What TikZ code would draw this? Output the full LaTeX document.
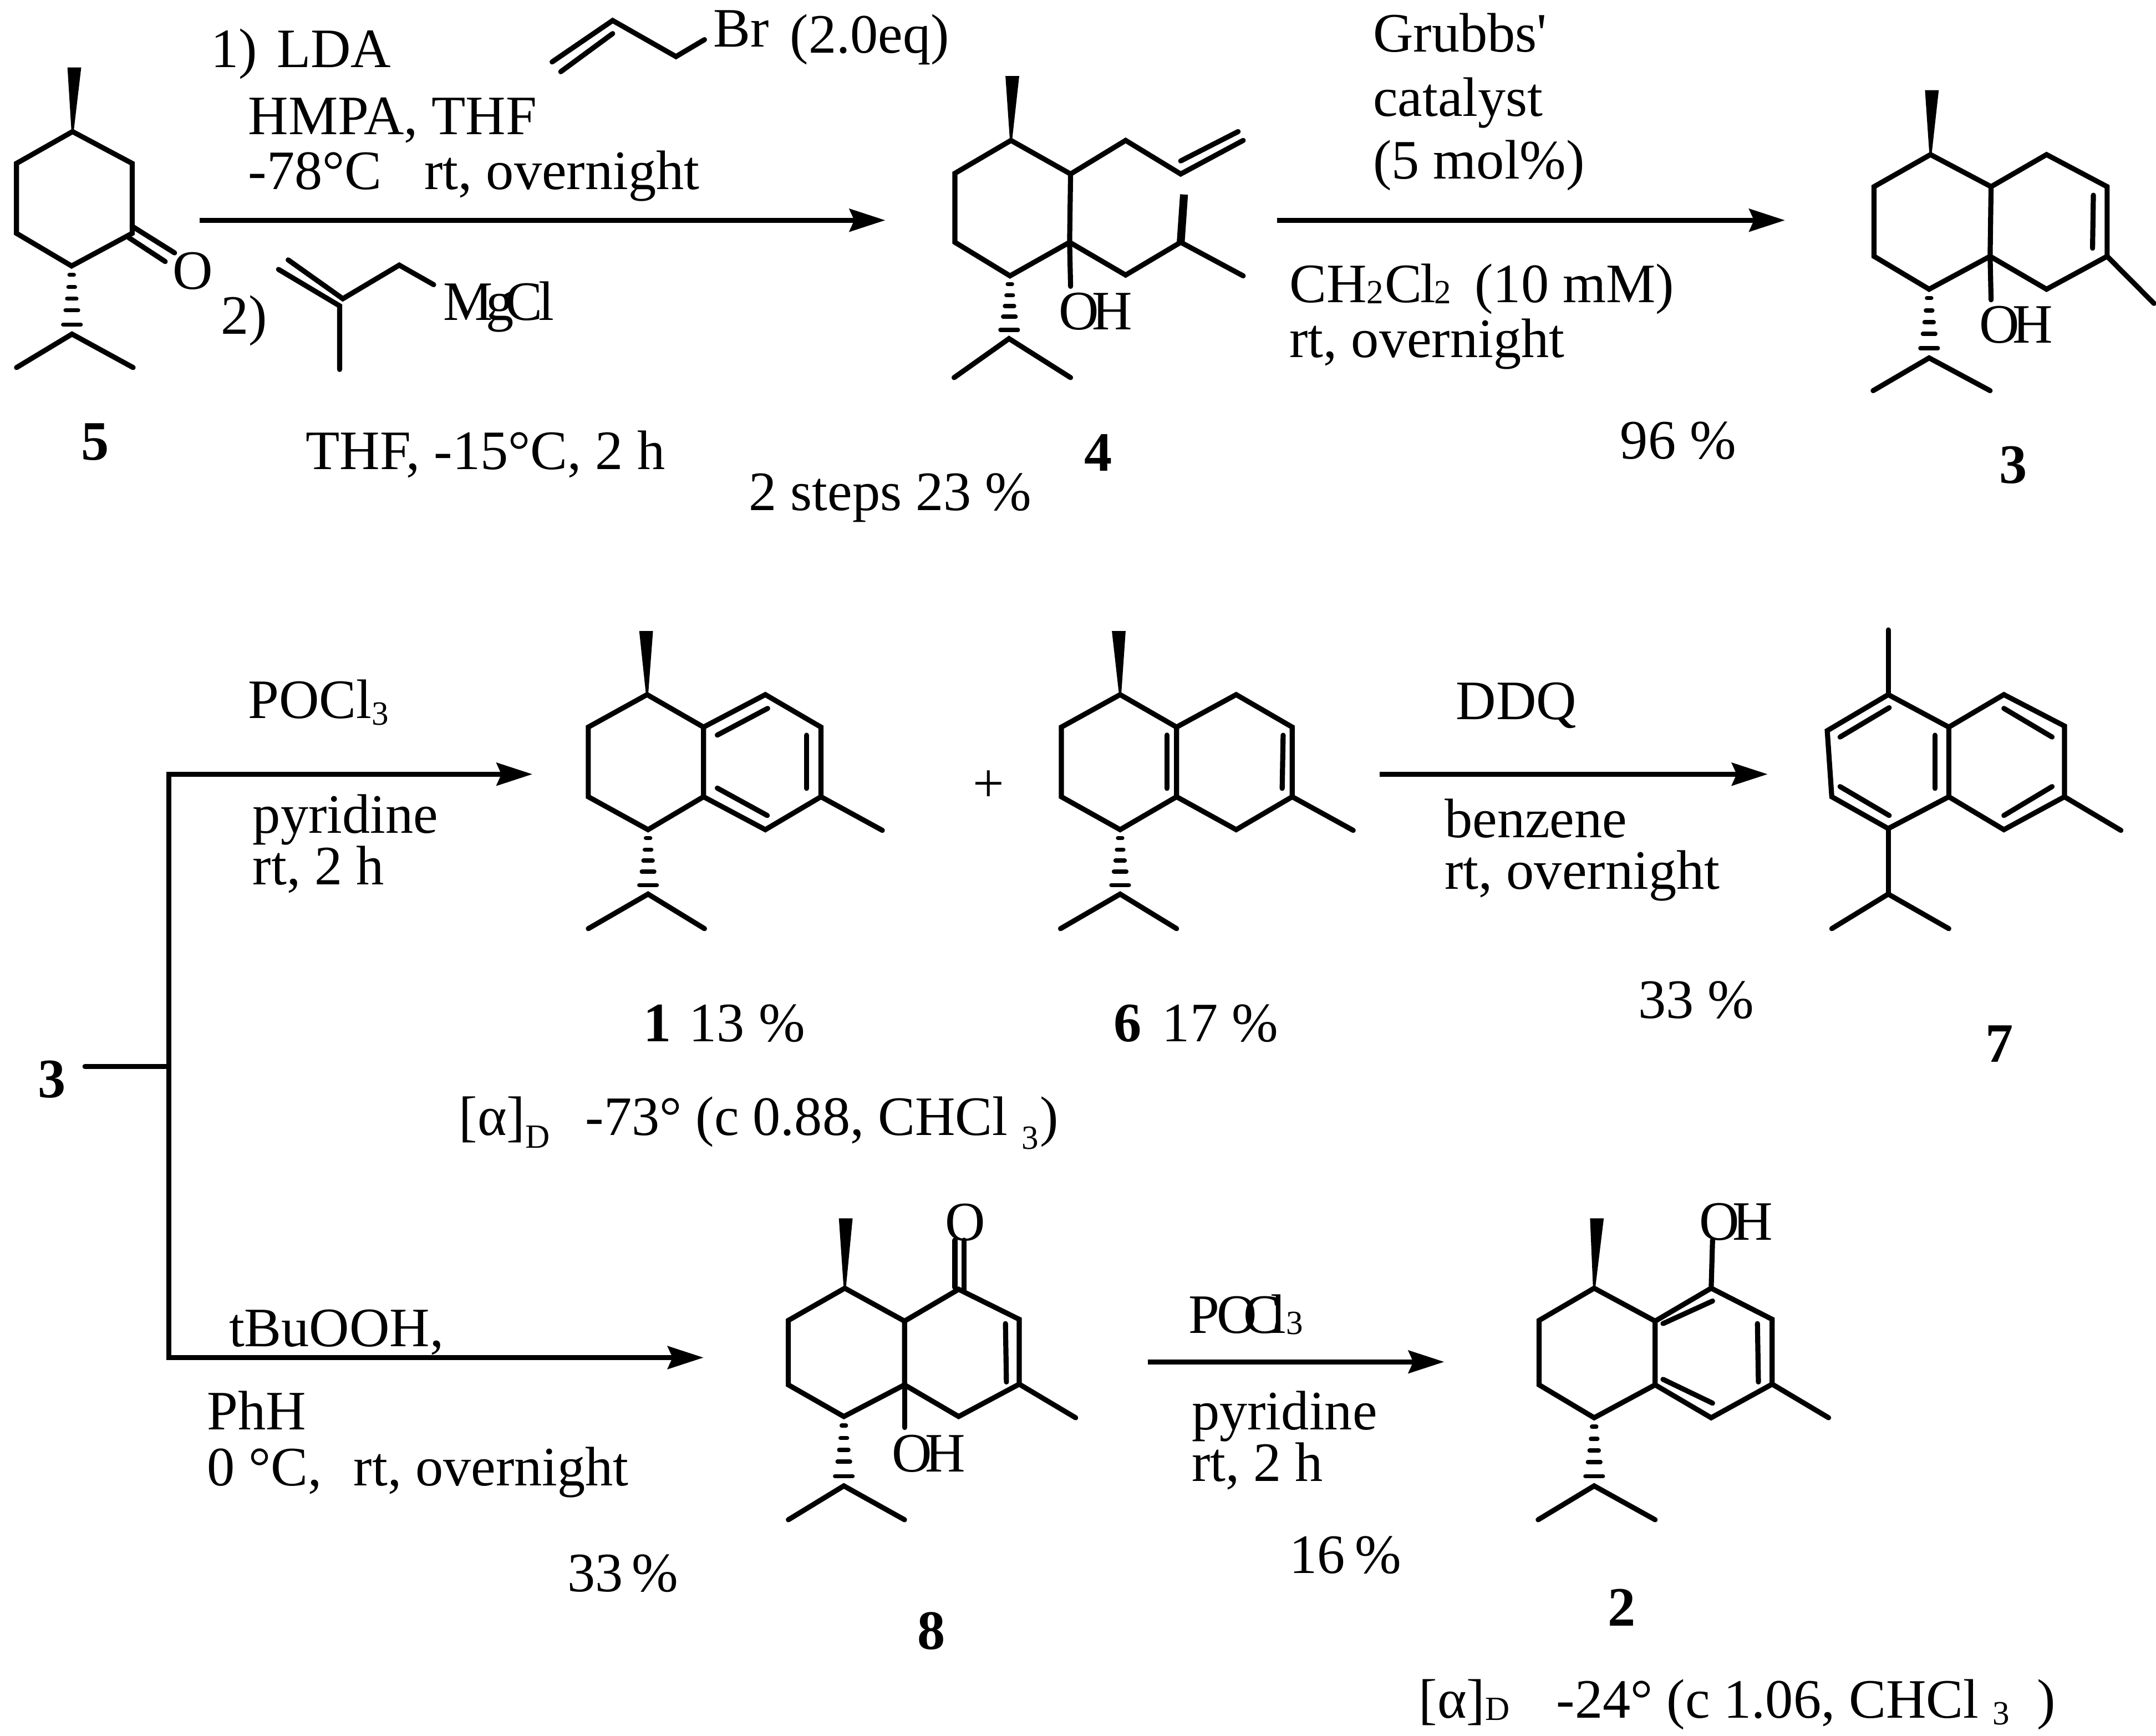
\documentclass[tikz,border=0pt]{standalone}
\usepackage{fontspec}
\setmainfont{Liberation Serif}[Ligatures=TeXOff]
\usetikzlibrary{arrows.meta,calc}

\tikzset{
  bond/.style={line width=0.074cm,line cap=round,line join=miter},
  boldbond/.style={line width=0.115cm},
  hashbar/.style={line width=0.06cm,line cap=round},
  rxn/.style={line width=0.07cm,-{Stealth[length=0.52cm,width=0.33cm,inset=0.07cm]}},
  txt/.style={anchor=base west,inner sep=0pt,font=\fontsize{23}{24}\selectfont},
  num/.style={anchor=center,inner sep=0pt,font=\fontsize{23}{24}\selectfont\bfseries},
}
\newcommand{\subdig}[2]{\raisebox{-#1}{\fontsize{14}{14}\selectfont #2}}
\newcommand{\OHlabel}{O\kern-0.1cm H}
\newcommand{\wedgebond}[2]{\fill ($(#1)+(-0.8,0)$) -- ($(#2)+(-5,0)$) -- ($(#2)+(5,0)$) -- ($(#1)+(0.8,0)$) -- cycle;}
\newcommand{\hashbond}[2]{%
  \foreach \t/\w in {0.13/1.6,0.31/2.4,0.48/3.4,0.65/4.6,0.86/6.4}
    \draw[hashbar] ($(#1)!\t!(#2)+(-\w,0)$) -- ($(#1)!\t!(#2)+(\w,0)$);}

\begin{document}
\begin{tikzpicture}[x=0.02cm,y=-0.02cm]
\useasboundingbox (0,0) rectangle (1566,1261);

% compound 5
\coordinate (fa) at (52.7,95.6);
\coordinate (fb) at (96,118.7);
\coordinate (fc) at (96,169.5);
\coordinate (fd) at (52,193.2);
\coordinate (fe) at (12,169.5);
\coordinate (ff) at (12,118.7);
\coordinate (fme) at (54,49);
\coordinate (fip) at (52.3,242.7);
\coordinate (fm1) at (12,267);
\coordinate (fm2) at (96.7,267);
\draw[bond] (fa) -- (fb) -- (fc) -- (fd) -- (fe) -- (ff) -- cycle;
\wedgebond{fa}{fme}
\hashbond{fd}{fip}
\draw[bond] (fm1) -- (fip) -- (fm2);
\draw[bond] (96,164.4) -- (126.8,183.7);
\draw[bond] (93.5,172.6) -- (120,190);
\node[txt,anchor=center] (fO) at (140,197) {O};
\node[num] (n5) at (69,321) {5};

% reagents, first arrow
\node[txt] (lda) at (153,48.8) {1)\hspace{0.28cm}LDA};
\node[txt] (hmpa) at (180,97.6) {HMPA, THF};
\node[txt] (temp) at (180,137.4) {-78°C\hspace{0.62cm}rt, overnight};
\coordinate (ba) at (445,14.9);
\coordinate (bb) at (401,45);
\coordinate (bc) at (491,41.1);
\coordinate (bd) at (511.7,28.8);
\draw[bond] (bb) -- (ba) -- (bc) -- (bd);
\draw[bond] (445,24.4) -- (407.3,52.1);
\node[txt] (br) at (518,33.9) {Br};
\node[txt] (eq) at (573.6,38.5) {(2.0eq)};
\coordinate (aone) at (145,160);
\coordinate (aonee) at (643,160);
\draw[rxn] (aone) -- (aonee);
\node[txt] (two) at (160,242.7) {2)};
\coordinate (ga) at (209.3,188.8);
\coordinate (gb) at (249,217);
\coordinate (gc) at (290,192.6);
\coordinate (gd) at (315,206.8);
\coordinate (ge) at (246.7,268.4);
\draw[bond] (ga) -- (gb) -- (gc) -- (gd);
\draw[bond] (202.3,195.7) -- (246.7,222.2) -- (ge);
\node[txt] (mg) at (321.7,232.5) {M\kern-0.1cm g\kern-0.12cm C\kern-0.06cm l};
\node[txt] (thf) at (221.7,341) {THF, -15°C, 2 h};
\node[txt] (yfour) at (543.6,370.7) {2 steps 23 \%};

% compound 4
\coordinate (ra) at (734.3,102);
\coordinate (rb) at (777.6,126.4);
\coordinate (rc) at (776.9,176);
\coordinate (rd) at (733.6,200.4);
\coordinate (re) at (693.6,176);
\coordinate (rf) at (693.6,125.9);
\coordinate (rme) at (735.3,55.2);
\coordinate (rg) at (817.6,102);
\coordinate (rh) at (857.6,126.4);
\coordinate (ri) at (903,102);
\coordinate (rj) at (817.6,199.8);
\coordinate (rk) at (857.6,176);
\coordinate (rl) at (903,200.4);
\coordinate (rm) at (860,141.3);
\coordinate (roh) at (777.6,208);
\coordinate (rip) at (732.9,246);
\coordinate (rm1) at (693,274.3);
\coordinate (rm2) at (777.6,274.3);
\draw[bond] (ra) -- (rb) -- (rc) -- (rd) -- (re) -- (rf) -- cycle;
\wedgebond{ra}{rme}
\hashbond{rd}{rip}
\draw[bond] (rb) -- (rg) -- (rh) -- (ri);
\draw[bond] (857.6,116.9) -- (899.3,95.6);
\draw[bond] (rc) -- (rj) -- (rk) -- (rl);
\draw[boldbond] (rk) -- (rm);
\draw[bond] (rc) -- (roh);
\draw[bond] (rm1) -- (rip) -- (rm2);
\node[txt] (rOH) at (768.6,239.4) {\OHlabel};
\node[num] (n4) at (797.6,328.8) {4};

% second arrow
\node[txt] (grubbs) at (997,37.8) {Grubbs'};
\node[txt] (cat) at (997,84.3) {catalyst};
\node[txt] (mol) at (997,129.7) {(5 mol\%)};
\coordinate (atwo) at (927.6,160);
\coordinate (atwoe) at (1296.5,160);
\draw[rxn] (atwo) -- (atwoe);
\node[txt] (dcm) at (936.3,219.6) {CH\subdig{0.02cm}{2}\kern0.02cm C\kern-0.03cm l\kern-0.02cm\subdig{0.02cm}{2} \kern0.14cm(10 mM)};
\node[txt] (rtone) at (936.3,259.4) {rt, overnight};
\node[txt] (yn) at (1176.5,333.2) {96 \%};

% compound 3
\coordinate (sa) at (1402.2,112.3);
\coordinate (sb) at (1446.2,135.6);
\coordinate (sc) at (1445.5,186.2);
\coordinate (sd) at (1401.2,210.1);
\coordinate (se) at (1361.2,186.2);
\coordinate (sf) at (1361.2,135.6);
\coordinate (sg) at (1486.5,112.3);
\coordinate (sh) at (1530.5,135.6);
\coordinate (si) at (1530.5,186.2);
\coordinate (sj) at (1486.5,210.1);
\coordinate (sme) at (1403.2,65.5);
\coordinate (smh) at (1564.5,220.4);
\coordinate (soh) at (1446.2,217.8);
\coordinate (sip) at (1401.2,260);
\coordinate (sm1) at (1360.5,283.8);
\coordinate (sm2) at (1445.5,283.8);
\draw[bond] (sa) -- (sb) -- (sc) -- (sd) -- (se) -- (sf) -- cycle;
\draw[bond] (sb) -- (sg) -- (sh) -- (si) -- (sj) -- (sc);
\draw[bond] (1520.5,141.8) -- (1519.9,180.3);
\draw[bond] (si) -- (smh);
\draw[bond] (sc) -- (soh);
\wedgebond{sa}{sme}
\hashbond{sd}{sip}
\draw[bond] (sm1) -- (sip) -- (sm2);
\node[txt] (sOH) at (1437.2,249.2) {\OHlabel};
\node[num] (n3) at (1462.2,337.8) {3};

% branch from 3
\node[num] (nthree) at (37.7,784) {3};
\coordinate (st) at (61.7,774.8);
\coordinate (brm) at (122.7,774.8);
\coordinate (brt) at (122.7,562.4);
\coordinate (brb) at (122.7,986.2);
\coordinate (atop) at (386.7,562.4);
\coordinate (abot) at (511,986.2);
\draw[bond] (st) -- (brm);
\draw[rxn] (brb) -- (brt) -- (atop);
\draw[rxn] (brt) -- (brb) -- (abot);
\node[txt] (poc) at (180,521.8) {POCl\subdig{0.1cm}{3}};
\node[txt] (pyr) at (183.3,605.3) {pyridine};
\node[txt] (rttwo) at (183.3,642.5) {rt, 2 h};

% compound 1
\coordinate (ua) at (470,504.6);
\coordinate (ub) at (511,528.2);
\coordinate (uc) at (511,578.8);
\coordinate (ud) at (470.7,602.7);
\coordinate (ue) at (427.3,578.8);
\coordinate (uf) at (427.3,528.2);
\coordinate (ug) at (555.9,504.6);
\coordinate (uh) at (596.3,528.2);
\coordinate (ui) at (596.3,578.8);
\coordinate (uj) at (555.9,602.7);
\coordinate (ume) at (469.3,458.4);
\coordinate (umh) at (640.9,603.2);
\coordinate (uip) at (470.7,649.5);
\coordinate (um1) at (427.3,674.6);
\coordinate (um2) at (511.7,674.6);
\draw[bond] (ua) -- (ub) -- (uc) -- (ud) -- (ue) -- (uf) -- cycle;
\draw[bond] (ub) -- (ug) -- (uh) -- (ui) -- (uj) -- (uc);
\draw[bond] (521,534) -- (557.6,514.6);
\draw[bond] (585.9,534.1) -- (585.9,572.7);
\draw[bond] (521,572.5) -- (557.3,592.4);
\draw[bond] (ui) -- (umh);
\wedgebond{ua}{ume}
\hashbond{ud}{uip}
\draw[bond] (um1) -- (uip) -- (um2);
\node[txt] (none) at (467,756.8) {\textbf{1}\hspace{0.26cm}13 \%};
\node[txt] (rotone) at (333,824.6) {[α]\subdig{0.19cm}{D}\hspace{0.52cm}-73° (c 0.88, CHCl \subdig{0.2cm}{3}\hspace{0.02cm})};
\node[txt,anchor=center] (plus) at (718,571) {+};

% compound 6
\coordinate (va) at (813.6,504.6);
\coordinate (vb) at (854.6,528.2);
\coordinate (vc) at (854.6,578.8);
\coordinate (vd) at (813.6,602.7);
\coordinate (ve) at (770.9,578.8);
\coordinate (vf) at (770.9,528.2);
\coordinate (vg) at (897.9,504.6);
\coordinate (vh) at (938.6,528.2);
\coordinate (vi) at (938.6,578.8);
\coordinate (vj) at (897.9,602.7);
\coordinate (vme) at (812.6,458.4);
\coordinate (vmh) at (982.9,603.2);
\coordinate (vip) at (813.6,649.5);
\coordinate (vm1) at (770.3,674.6);
\coordinate (vm2) at (854.6,674.6);
\draw[bond] (va) -- (vb) -- (vc) -- (vd) -- (ve) -- (vf) -- cycle;
\draw[bond] (vb) -- (vg) -- (vh) -- (vi) -- (vj) -- (vc);
\draw[bond] (847.6,534) -- (847.6,572.7);
\draw[bond] (932,534.1) -- (931.3,572.7);
\draw[bond] (vi) -- (vmh);
\wedgebond{va}{vme}
\hashbond{vd}{vip}
\draw[bond] (vm1) -- (vip) -- (vm2);
\node[txt] (nsix) at (808.6,756.8) {\textbf{6}\hspace{0.3cm}17 \%};

% third arrow
\coordinate (ath) at (1001.9,562.4);
\coordinate (athe) at (1283.9,562.4);
\draw[rxn] (ath) -- (athe);
\node[txt] (ddq) at (1057.2,522.6) {DDQ};
\node[txt] (benz) at (1049,608.4) {benzene};
\node[txt] (rtth) at (1049,645.9) {rt, overnight};
\node[txt] (yth) at (1189.5,739.6) {33 \%};

% compound 7
\coordinate (wa) at (1371.5,504.6);
\coordinate (wb) at (1415.5,528.2);
\coordinate (wc) at (1415.5,578.8);
\coordinate (wd) at (1371.5,601.9);
\coordinate (we) at (1330.5,578.8);
\coordinate (wf) at (1327.2,530.8);
\coordinate (wg) at (1455.5,504.6);
\coordinate (wh) at (1499.5,527.4);
\coordinate (wi) at (1499.5,578.8);
\coordinate (wj) at (1455.5,602.7);
\coordinate (wme) at (1371.5,457.6);
\coordinate (wmh) at (1540.5,603.2);
\coordinate (wip) at (1371.5,649.5);
\coordinate (wm1) at (1330.5,674.6);
\coordinate (wm2) at (1415.5,674.6);
\draw[bond] (wa) -- (wb) -- (wc) -- (wd) -- (we) -- (wf) -- cycle;
\draw[bond] (wb) -- (wg) -- (wh) -- (wi) -- (wj) -- (wc);
\draw[bond] (1372.2,514.1) -- (1336.5,535.4);
\draw[bond] (1336.5,571.4) -- (1372.2,592.4);
\draw[bond] (1405.5,534.1) -- (1405.5,572.7);
\draw[bond] (1455.5,514.6) -- (1490.5,535.4);
\draw[bond] (1490.5,571.4) -- (1455.5,592.4);
\draw[bond] (wa) -- (wme);
\draw[bond] (wi) -- (wmh);
\draw[bond] (wd) -- (wip);
\draw[bond] (wm1) -- (wip) -- (wm2);
\node[num] (n7) at (1452.2,758.1) {7};

% lower branch text
\node[txt] (tbu) at (166,978.2) {tBuOOH,};
\node[txt] (phh) at (150,1038.6) {PhH};
\node[txt] (zero) at (150,1079.4) {0 °C,\hspace{0.46cm}rt, overnight};
\node[txt] (yei) at (412,1156.2) {33\kern-0.08cm\ \%};

% compound 8
\coordinate (xa) at (613.6,935.8);
\coordinate (xb) at (657,959.7);
\coordinate (xc) at (657,1006);
\coordinate (xd) at (612.9,1029);
\coordinate (xe) at (572.6,1006);
\coordinate (xf) at (572.6,959.2);
\coordinate (xg) at (696.3,936.6);
\coordinate (xh) at (740.3,958.4);
\coordinate (xi) at (740.3,1005.5);
\coordinate (xj) at (696.3,1029);
\coordinate (xme) at (614.3,885);
\coordinate (xmh) at (781.3,1029.9);
\coordinate (xoh) at (657,1037);
\coordinate (xip) at (612.9,1079.4);
\coordinate (xm1) at (572.6,1104);
\coordinate (xm2) at (657,1104);
\draw[bond] (xa) -- (xb) -- (xc) -- (xd) -- (xe) -- (xf) -- cycle;
\draw[bond] (xb) -- (xg) -- (xh) -- (xi) -- (xj) -- (xc);
\draw[bond] (730.3,961.5) -- (731,1003.9);
\draw[bond] (693.6,900.9) -- (693.6,935.3);
\draw[bond] (700.3,900.9) -- (700.3,937.2);
\draw[bond] (xi) -- (xmh);
\draw[bond] (xc) -- (xoh);
\wedgebond{xa}{xme}
\hashbond{xd}{xip}
\draw[bond] (xm1) -- (xip) -- (xm2);
\node[txt,anchor=center] (xO) at (701.3,888.2) {O};
\node[txt] (xOH) at (647.6,1069) {\OHlabel};
\node[num] (n8) at (676.3,1184.8) {8};

% fourth arrow
\coordinate (afo) at (833.6,989.3);
\coordinate (afoe) at (1049,989.3);
\draw[rxn] (afo) -- (afoe);
\node[txt] (pocb) at (863,968.4) {P\kern-0.04cm O\kern-0.2cm C\kern-0.14cm l\subdig{0.02cm}{3}};
\node[txt] (pyrb) at (865.3,1038.6) {pyridine};
\node[txt] (rtfo) at (865.3,1076.2) {rt, 2 h};
\node[txt] (yfo) at (936.3,1142.9) {16\kern-0.06cm\ \%};

% compound 2
\coordinate (za) at (1157.9,935.8);
\coordinate (zb) at (1202.2,959.7);
\coordinate (zc) at (1202.2,1006);
\coordinate (zd) at (1157.9,1029.9);
\coordinate (ze) at (1117.9,1006);
\coordinate (zf) at (1117.9,959.2);
\coordinate (zg) at (1242.9,935.8);
\coordinate (zh) at (1287.2,958.4);
\coordinate (zi) at (1287.2,1005.5);
\coordinate (zj) at (1242.9,1029.9);
\coordinate (zme) at (1159.9,885);
\coordinate (zmh) at (1328.2,1029.9);
\coordinate (zoh) at (1243.9,900.9);
\coordinate (zip) at (1157.9,1079.4);
\coordinate (zm1) at (1117.2,1104);
\coordinate (zm2) at (1202.2,1104);
\draw[bond] (za) -- (zb) -- (zc) -- (zd) -- (ze) -- (zf) -- cycle;
\draw[bond] (zb) -- (zg) -- (zh) -- (zi) -- (zj) -- (zc);
\draw[bond] (1207.9,961.5) -- (1243.9,945.1);
\draw[bond] (1276.5,961.5) -- (1277.2,1003.9);
\draw[bond] (1207.9,1002) -- (1243.9,1019.3);
\draw[bond] (zi) -- (zmh);
\draw[bond] (zg) -- (zoh);
\wedgebond{za}{zme}
\hashbond{zd}{zip}
\draw[bond] (zm1) -- (zip) -- (zm2);
\node[txt] (zOH) at (1233.9,900.9) {\OHlabel};
\node[num] (n2) at (1177.9,1167.6) {2};
\node[txt] (rottwo) at (1030.3,1247.8) {[α]\subdig{0.04cm}{D}\hspace{0.68cm}-24° (c 1.06, CHCl \subdig{0.1cm}{3}\hspace{0.4cm})};
\end{tikzpicture}
\end{document}
